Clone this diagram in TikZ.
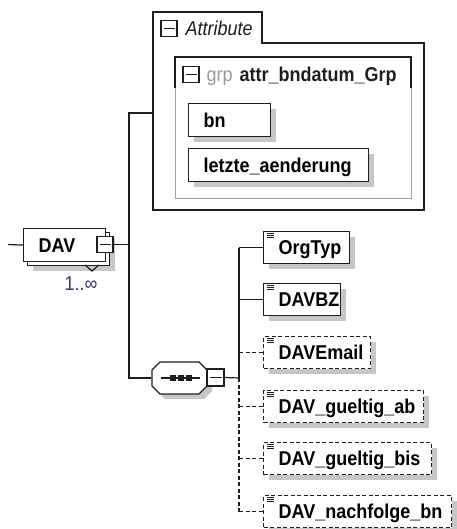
\documentclass[tikz,border=0pt]{standalone}
\usepackage{fontspec}
\setmainfont{Liberation Sans}[FakeStretch=0.9]
\usetikzlibrary{shadows}
\definecolor{lncol}{HTML}{1E1E1E}
\definecolor{shd}{HTML}{C6C6C6}
\definecolor{grpgrey}{HTML}{A0A0A0}
\definecolor{grptext}{HTML}{9A9A9A}
\definecolor{occcol}{HTML}{3A3478}
\begin{document}
\begin{tikzpicture}[x=1pt,y=-1pt,line width=1.2pt,
  conn/.style={draw=lncol, line width=1.2pt},
  optconn/.style={conn, dash pattern=on 4pt off 2.5pt},
  lbl/.style={inner sep=0pt, text height=14pt, text depth=0pt, text=lncol, font=\fontsize{20}{23}\selectfont},
  boxbase/.style={draw=lncol, fill=white, line width=1.2pt, anchor=north west, inner xsep=15pt, inner ysep=0pt,
    text height=14pt, text depth=0pt, align=left, text=black, font=\fontsize{20}{23}\selectfont\bfseries},
  elem/.style={boxbase, drop shadow={shadow xshift=5.5pt, shadow yshift=-5.5pt, fill=shd, opacity=1}},
  childel/.style={elem, path picture={
      \foreach \dy in {2,4,6}{\draw[solid, draw=lncol, line width=0.9pt] ([shift={(3.5pt,-\dy pt)}]path picture bounding box.north west) -- ++(7pt,0pt);}}},
  optel/.style={childel, dash pattern=on 4pt off 2.5pt},
  minusbox/.style={draw=lncol, fill=white, minimum width=16pt, minimum height=16pt, inner sep=0pt, line width=1.1pt,
    path picture={\draw[draw=lncol, line width=1.1pt] ([xshift=2.5pt]path picture bounding box.west) -- ([xshift=-2.5pt]path picture bounding box.east);}}
]
\useasboundingbox (0,0) rectangle (456,529);

% ---- Attribute container ----
\draw[conn] (153,210) -- (153,12) -- (262,12) -- (262,43) -- (424,43) -- (424,210) -- cycle;
\coordinate (attrL) at (153,113);
\node[minusbox] (attrminus) at (169,28.5) {};
\node[lbl, anchor=west, font=\fontsize{20}{23}\selectfont\itshape] (attrtxt) at (185,29) {Attribute};

% ---- group box ----
\draw[conn] (175,88) -- (175,57) -- (411,57) -- (411,88);
\draw[draw=grpgrey, line width=1pt] (175,88) -- (175,199) -- (411,199) -- (411,88);
\node[minusbox] (grpminus) at (191,74.5) {};
\node[lbl, anchor=west, text=grptext] (grptag) at (206,74.5) {grp};
\node[lbl, anchor=west, font=\fontsize{20}{23}\selectfont\bfseries] (grpname) at (239,74.5) {attr\_bndatum\_Grp};

\node[elem, minimum width=82pt, minimum height=33pt, text width=52pt] (bn) at (188,103) {bn};
\node[elem, minimum width=180pt, minimum height=33pt, text width=150pt] (letzte) at (188,148) {letzte\_aenderung};

% ---- DAV element ----
\node[elem, minimum width=82pt, minimum height=33pt, text width=52pt] (davback) at (27,232) {};
\node[boxbase, minimum width=82pt, minimum height=33pt, text width=52pt] (dav) at (23,228) {DAV};
\draw[conn] (85,265) -- (92,271) -- (99,265);
\node[minusbox] (davminus) at (105,244.5) {};
\node[lbl, text=occcol] (occ) at (81,283) {1..∞};
\coordinate (davin) at (8,244.5);

% ---- sequence compositor ----
\node[inner sep=0pt, minimum width=55pt, minimum height=32pt] (seq) at (179.5,378) {};
\fill[shd] (165,367) -- (204,367) -- (212,375) -- (212,391) -- (204,399) -- (165,399) -- (157,391) -- (157,375) -- cycle;
\draw[conn, fill=white] (160,362) -- (199,362) -- (207,370) -- (207,386) -- (199,394) -- (160,394) -- (152,386) -- (152,370) -- cycle;
\draw[conn] (161,378) -- (200,378);
\fill[lncol] (170,375) rectangle (176,381);
\fill[lncol] (178,375) rectangle (184,381);
\fill[lncol] (186,375) rectangle (192,381);
\node[minusbox, minimum width=17pt, minimum height=17pt] (seqminus) at (215.5,377.5) {};

% ---- child elements ----
\node[childel, minimum width=86pt, minimum height=32pt, text width=56pt] (orgtyp) at (263,231) {OrgTyp};
\node[childel, minimum width=77pt, minimum height=32pt, text width=47pt] (davbz) at (263,283) {DAVBZ};
\node[optel, minimum width=107pt, minimum height=32pt, text width=77pt] (davemail) at (263,336) {DAVEmail};
\node[optel, minimum width=160pt, minimum height=32pt, text width=130pt] (gab) at (263,390) {DAV\_gueltig\_ab};
\node[optel, minimum width=168pt, minimum height=32pt, text width=138pt] (gbis) at (263,442) {DAV\_gueltig\_bis};
\node[optel, minimum width=188pt, minimum height=32pt, text width=158pt] (nachf) at (263,495) {DAV\_nachfolge\_bn};

% ---- connectors ----
\draw[conn] (davin) -- (dav.west);
\coordinate (j1) at (129,244.5);
\draw[conn] (davminus.east) -- (j1);
\draw[conn] (attrL) -- (attrL -| j1) -- (seq.west -| j1) -- (seq.west);
\coordinate (j2) at (239,378);
\draw[conn] (seqminus.east) -- (j2);
\draw[conn] (orgtyp.west -| j2) -- (j2);
\draw[optconn] (j2) -- (nachf.west -| j2);
\draw[conn] (orgtyp.west -| j2) -- (orgtyp.west);
\draw[conn] (davbz.west -| j2) -- (davbz.west);
\draw[optconn] (davemail.west -| j2) -- (davemail.west);
\draw[optconn] (gab.west -| j2) -- (gab.west);
\draw[optconn] (gbis.west -| j2) -- (gbis.west);
\draw[optconn] (nachf.west -| j2) -- (nachf.west);
\end{tikzpicture}
\end{document}
